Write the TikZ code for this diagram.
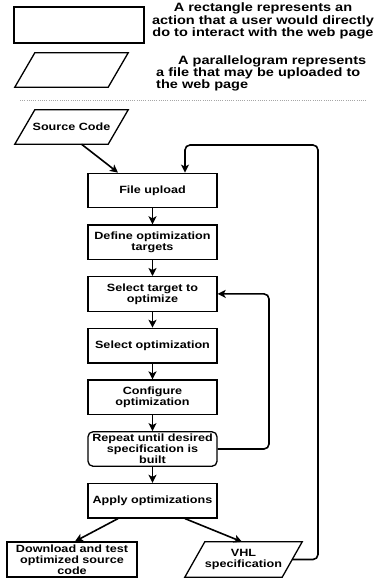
\documentclass[tikz,border=0pt]{standalone}
\usepackage{fontspec}
\newfontfamily\lblfont{Liberation Sans Bold}[FakeStretch=1.2]
\usetikzlibrary{arrows.meta}
\newcommand\drawpar[1]{\draw[parline] ([xshift=10pt]#1.north west) -- ([xshift=10pt]#1.north east) -- ([xshift=-10pt]#1.south east) -- ([xshift=-10pt]#1.south west) -- cycle;}
\begin{document}
\begin{tikzpicture}[x=1pt,y=-1pt,
  mainfont/.style={font=\lblfont\fontsize{10.5}{11}\selectfont},
  legfont/.style={font=\lblfont\fontsize{12.1}{12.2}\selectfont},
  box/.style={draw, line width=1.3pt, minimum width=129pt, minimum height=34.5pt, inner sep=1pt, align=center, mainfont},
  parnode/.style={minimum width=93pt, minimum height=34pt, inner sep=0pt, align=center, mainfont},
  parline/.style={line width=1.3pt, line join=miter},
  arr/.style={line width=1.6pt, -{Stealth[width=8pt,length=8pt,inset=2pt]}},
  sep/.style={gray!70, line width=1pt, dash pattern=on 1pt off 1.2pt}]
\useasboundingbox (0,0) rectangle (376,578);
% legend
\node[draw, line width=1.3pt, minimum width=130pt, minimum height=36pt, inner sep=0pt] (legrect) at (79,25) {};
\node[legfont, align=center] (legt1) at (263,21) {A rectangle represents an\\action that a user would directly\\do to interact with the web page};
\node[parnode] (legpar) at (71.5,70) {};
\drawpar{legpar}
\node[legfont, align=left, anchor=west, inner sep=0pt] (legt2) at (156,73.5) {\hspace*{22pt}A parallelogram represents\\a file that may be uploaded to\\the web page};
\coordinate (sepL) at (20,100);
\coordinate (sepR) at (367,100);
\draw[sep] (sepL) -- (sepR);
% flow
\node[parnode] (src) at (71.5,127) {Source Code};
\drawpar{src}
\node[box] (fu) at (152.5,190.5) {File upload};
\node[box] (def) at (152.5,242.2) {Define optimization\\targets};
\node[box] (sel) at (152.5,293.9) {Select target to\\optimize};
\node[box] (selopt) at (152.5,345.6) {Select optimization};
\node[box] (conf) at (152.5,397.3) {Configure\\optimization};
\node[box, rounded corners=5pt] (rep) at (152.5,449) {Repeat until desired\\specification is\\built};
\node[box] (apply) at (152.5,500.7) {Apply optimizations};
\node[box, minimum width=130pt, minimum height=35pt] (dl) at (72,559.5) {Download and test\\optimized source\\code};
\node[parnode, minimum width=97pt, minimum height=35pt] (vhl) at (243.5,559.5) {VHL\\specification};
\drawpar{vhl}
% connectors
\draw[arr] ([xshift=10pt]src.south) -- ([xshift=-34.5pt]fu.north);
\draw[arr] (fu) -- (def);
\draw[arr] (def) -- (sel);
\draw[arr] (sel) -- (selopt);
\draw[arr] (selopt) -- (conf);
\draw[arr] (conf) -- (rep);
\draw[arr] (rep) -- (apply);
\draw[arr] ([xshift=-34.5pt]apply.south) -- ([xshift=3pt]dl.north);
\draw[arr] ([xshift=32.5pt]apply.south) -- ([xshift=-1.5pt]vhl.north);
\coordinate (l1) at (269,293.9);
\draw[arr, rounded corners=5pt] (rep.east) -| (l1) -- (sel.east);
\coordinate (l2) at (318,145);
\draw[arr, rounded corners=5pt] (vhl.east) -| (l2) -| ([xshift=32.5pt]fu.north);
\end{tikzpicture}
\end{document}
